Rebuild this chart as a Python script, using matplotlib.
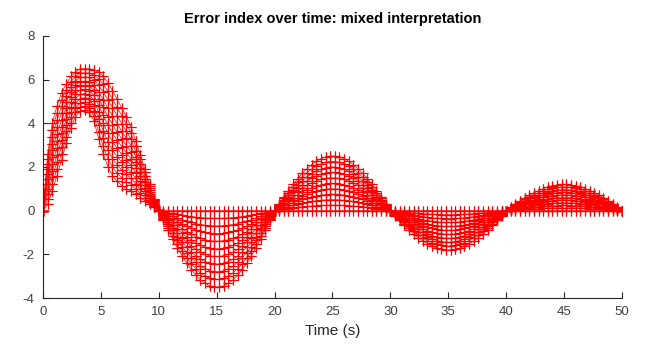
import numpy as np
import matplotlib
matplotlib.use("Agg")
import matplotlib.pyplot as plt

# sample times (s)
time_s = [0.0, 0.4, 0.8, 1.2, 1.6, 2.0, 2.4, 2.8, 3.2, 3.6, 4.0, 4.4, 4.8,
          5.2, 5.6, 6.0, 6.4, 6.8, 7.2, 7.6, 8.0, 8.4, 8.8, 9.2, 9.6,
          10.0, 10.4, 10.8, 11.2, 11.6, 12.0, 12.4, 12.8, 13.2, 13.6, 14.0, 14.4, 14.8,
          15.2, 15.6, 16.0, 16.4, 16.8, 17.2, 17.6, 18.0, 18.4, 18.8, 19.2, 19.6,
          20.0, 20.4, 20.8, 21.2, 21.6, 22.0, 22.4, 22.8, 23.2, 23.6, 24.0, 24.4, 24.8,
          25.2, 25.6, 26.0, 26.4, 26.8, 27.2, 27.6, 28.0, 28.4, 28.8, 29.2, 29.6,
          30.0, 30.4, 30.8, 31.2, 31.6, 32.0, 32.4, 32.8, 33.2, 33.6, 34.0, 34.4, 34.8,
          35.2, 35.6, 36.0, 36.4, 36.8, 37.2, 37.6, 38.0, 38.4, 38.8, 39.2, 39.6,
          40.0, 40.4, 40.8, 41.2, 41.6, 42.0, 42.4, 42.8, 43.2, 43.6, 44.0, 44.4, 44.8,
          45.2, 45.6, 46.0, 46.4, 46.8, 47.2, 47.6, 48.0, 48.4, 48.8, 49.2, 49.6,
          50.0]

# outer envelope of the error index
outer_error = [0.0, 2.6, 4.0, 4.8, 5.4, 5.8, 6.15, 6.35, 6.5, 6.5, 6.5, 6.45, 6.35,
               6.15, 5.85, 5.5, 5.1, 4.7, 4.3, 3.85, 3.2, 2.55, 1.9, 1.2, 0.55,
               0.05,
               -0.44, -0.87, -1.29, -1.69, -2.06, -2.40, -2.70, -2.96, -3.17, -3.33, -3.44, -3.49,
               -3.49, -3.44, -3.33, -3.17, -2.96, -2.70, -2.40, -2.06, -1.69, -1.29, -0.87, -0.44,
               0.0,
               0.31, 0.62, 0.92, 1.20, 1.47, 1.71, 1.93, 2.11, 2.26, 2.38, 2.46, 2.50,
               2.50, 2.46, 2.38, 2.26, 2.11, 1.93, 1.71, 1.47, 1.20, 0.92, 0.62, 0.31,
               0.0,
               -0.23, -0.45, -0.66, -0.87, -1.06, -1.23, -1.39, -1.52, -1.63, -1.71, -1.77, -1.80,
               -1.80, -1.77, -1.71, -1.63, -1.52, -1.39, -1.23, -1.06, -0.87, -0.66, -0.45, -0.23,
               0.0,
               0.15, 0.30, 0.44, 0.58, 0.71, 0.82, 0.92, 1.01, 1.09, 1.14, 1.18, 1.20,
               1.20, 1.18, 1.14, 1.09, 1.01, 0.92, 0.82, 0.71, 0.58, 0.44, 0.30, 0.15,
               0.0]

# inner envelope (only non-zero during the first 10 s)
inner_error_first = [0.0, 0.3, 0.9, 1.6, 2.3, 3.1, 3.8, 4.3, 4.55, 4.6, 4.5, 4.1, 3.3,
                     2.6, 2.0, 1.6, 1.35, 1.15, 1.0, 0.9, 0.75, 0.6, 0.45, 0.3, 0.15,
                     0.0]
inner_error = inner_error_first + [0.0] * (len(time_s) - len(inner_error_first))

# fraction between inner and outer envelope for each curve
level_fraction = [0.0, 0.1, 0.2, 0.3, 0.4, 0.5, 0.6, 0.7, 0.8, 0.9, 1.0]

t = np.array(time_s)
outer = np.array(outer_error)
inner = np.array(inner_error)
frac = np.array(level_fraction)[:, None]
Y = inner[None, :] + frac * (outer - inner)[None, :]
T = np.broadcast_to(t, Y.shape)

plt.rcParams['font.family'] = ['Liberation Sans', 'DejaVu Sans']
plt.rcParams['axes.unicode_minus'] = False
fig = plt.figure(figsize=(6.45, 3.45), dpi=100)
ax = fig.add_axes([0.0667, 0.1362, 0.8976, 0.7595])

style = dict(color='#ff0000', marker='+', linestyle='-', linewidth=0.5,
             markersize=6.5, markeredgewidth=0.8)
# columns as series (vertical lines) and rows as series (curves)
ax.plot(T, Y, **style)
ax.plot(T.T, Y.T, **style)

ax.set_xlim(0, 50)
ax.set_ylim(-4, 8)
ax.set_xticks([0, 5, 10, 15, 20, 25, 30, 35, 40, 45, 50])
ax.set_yticks([-4, -2, 0, 2, 4, 6, 8])
for s in ['top', 'right']:
    ax.spines[s].set_visible(False)
for s in ['left', 'bottom']:
    ax.spines[s].set_color('#262626')
    ax.spines[s].set_linewidth(0.8)
ax.tick_params(direction='in', length=4, width=0.8, colors='#262626',
               labelcolor='#404040', labelsize=9.5)
ax.tick_params(axis='x', pad=6)
ax.tick_params(axis='y', pad=6)
ax.set_xlabel('Time (s)', fontsize=11, color='#262626', labelpad=4)
ax.set_title('Error index over time: mixed interpretation', fontsize=10.5,
             fontweight='bold', color='black', pad=9)

fig.savefig('out.png', dpi=100)
